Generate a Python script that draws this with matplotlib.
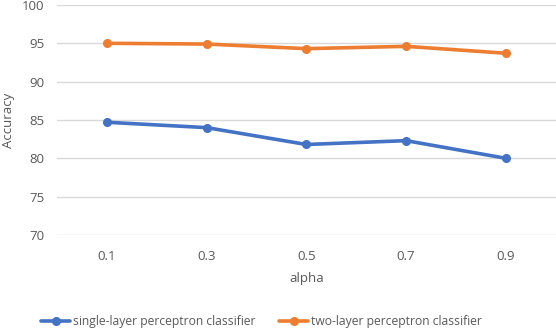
import matplotlib.pyplot as plt

alpha_labels = ['0.1', '0.3', '0.5', '0.7', '0.9']
single_layer = [84.7, 84.0, 81.8, 82.3, 80.0]
two_layer = [95.0, 94.9, 94.3, 94.6, 93.7]

plt.rcParams['font.family'] = ['Open Sans', 'DejaVu Sans']

fig = plt.figure(figsize=(5.56, 3.30), dpi=100)
ax = fig.add_axes([0.1025, 0.288, 0.897, 0.697])

x = list(range(len(alpha_labels)))
ax.plot(x, single_layer, color='#4472C4', linewidth=2.6, marker='o', markersize=5.5,
        label='single-layer perceptron classifier', solid_capstyle='round')
ax.plot(x, two_layer, color='#ED7D31', linewidth=2.6, marker='o', markersize=5.5,
        label='two-layer perceptron classifier', solid_capstyle='round')

ax.set_xlim(-0.5, 4.5)
ax.set_ylim(70, 100)
ax.set_yticks(range(70, 101, 5))
ax.set_xticks(x)
ax.set_xticklabels(alpha_labels)
ax.grid(axis='y', color='#D9D9D9', linewidth=1)
ax.set_axisbelow(True)
for s in ax.spines.values():
    s.set_visible(False)
ax.tick_params(length=0, colors='#595959', labelsize=9.5)
ax.tick_params(axis='x', pad=11)
ax.tick_params(axis='y', pad=9)

ax.set_xlabel('alpha', color='#595959', fontsize=9.5, labelpad=6)
ax.set_ylabel('Accuracy', color='#595959', fontsize=9.5, labelpad=5)

leg = ax.legend(loc='upper center', bbox_to_anchor=(0.41, -0.30), ncol=2, frameon=False,
                fontsize=8.7, handlelength=2.4, handletextpad=0.2, columnspacing=2.0)
for t in leg.get_texts():
    t.set_color('#595959')

plt.savefig('out.png', dpi=100)
